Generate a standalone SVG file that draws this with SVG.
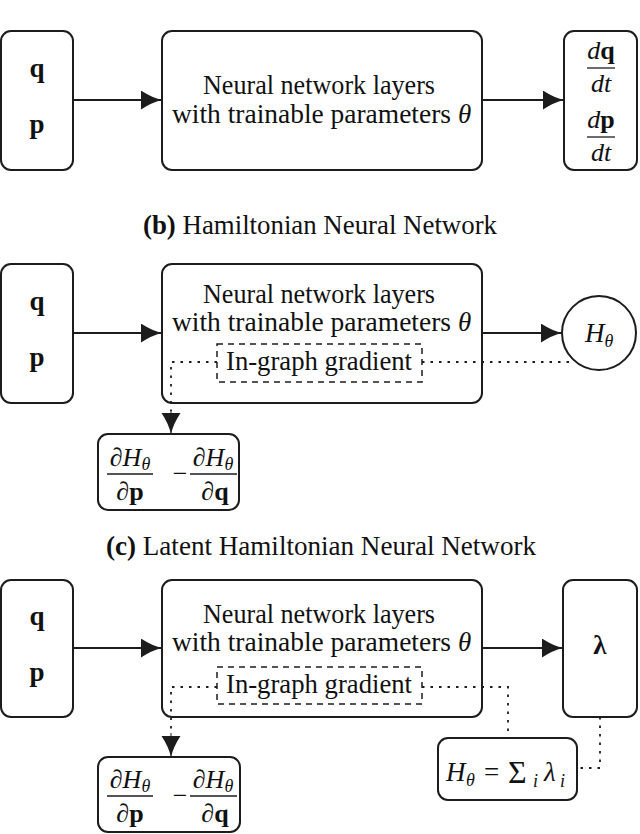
<svg xmlns="http://www.w3.org/2000/svg" width="640" height="834" viewBox="0 0 640 834">
<style>
.box{fill:#fff;stroke:#1c1c1c;stroke-width:2}
.conn{fill:none;stroke:#1c1c1c;stroke-width:2}
.dot{fill:none;stroke:#1c1c1c;stroke-width:1.8;stroke-dasharray:2.5 6}
.dash{fill:none;stroke:#1c1c1c;stroke-width:1.5;stroke-dasharray:6 5}
.frac{stroke:#1c1c1c;stroke-width:1.3}
text{font-family:"Liberation Serif","DejaVu Serif",serif;fill:#111;font-size:27px}
.b{font-weight:bold}
.i{font-style:italic}
.sub{font-size:18px;font-style:italic}
.m{text-anchor:middle}
.fr{font-size:26px}
</style>
<defs>
<marker id="ah" markerUnits="userSpaceOnUse" markerWidth="23" markerHeight="20" refX="21" refY="9.5" orient="auto" viewBox="0 0 23 20">
<path d="M21,9.5 Q10.5,7 0,0 L0,19 Q10.5,12 21,9.5 Z" fill="#1c1c1c"/>
</marker>
</defs>

<!-- Panel (a) -->
<g id="a-input">
<rect class="box" x="1" y="31" width="72" height="139" rx="10"/>
<text class="b m" x="37" y="77">q</text>
<text class="b m" x="37" y="133">p</text>
</g>
<g id="a-nn">
<rect class="box" x="162" y="31" width="320" height="139" rx="10"/>
<text x="203" y="94" textLength="232" lengthAdjust="spacingAndGlyphs">Neural network layers</text>
<text x="172" y="123" textLength="279" lengthAdjust="spacingAndGlyphs">with trainable parameters</text>
<text class="i" x="458" y="123">θ</text>
</g>
<g id="a-output">
<rect class="box" x="564" y="31" width="73" height="139" rx="10"/>
<text class="fr m" x="601" y="59"><tspan class="i">d</tspan><tspan class="b">q</tspan></text>
<line class="frac" x1="587" y1="68" x2="615" y2="68"/>
<text class="fr m i" x="601" y="92">dt</text>
<text class="fr m" x="601" y="128"><tspan class="i">d</tspan><tspan class="b">p</tspan></text>
<line class="frac" x1="587" y1="137" x2="615" y2="137"/>
<text class="fr m i" x="601" y="161">dt</text>
</g>

<!-- Panel (b) -->
<text id="b-title" x="143" y="234" textLength="354" lengthAdjust="spacingAndGlyphs"><tspan class="b">(b)</tspan> Hamiltonian Neural Network</text>
<g id="b-input">
<rect class="box" x="1" y="264" width="72" height="139" rx="10"/>
<text class="b m" x="37" y="310">q</text>
<text class="b m" x="37" y="366">p</text>
</g>
<g id="b-nn">
<rect class="box" x="162" y="264" width="320" height="139" rx="10"/>
<text x="203" y="303" textLength="232" lengthAdjust="spacingAndGlyphs">Neural network layers</text>
<text x="172" y="331" textLength="279" lengthAdjust="spacingAndGlyphs">with trainable parameters</text>
<text class="i" x="458" y="331">θ</text>
</g>
<g id="b-grad">
<rect class="dash" x="217" y="344" width="205" height="38"/>
<text x="226" y="370" textLength="186" lengthAdjust="spacingAndGlyphs">In-graph gradient</text>
</g>
<g id="b-H">
<circle class="box" cx="599" cy="333" r="37"/>
<text x="585" y="342"><tspan class="i">H</tspan><tspan class="sub" dy="5">θ</tspan></text>
</g>
<g id="b-deriv">
<rect class="box" x="98" y="434" width="141" height="76" rx="10"/>
<text class="fr m" x="130" y="466">∂<tspan class="i">H</tspan><tspan class="sub" dy="4">θ</tspan></text>
<line class="frac" x1="107" y1="474" x2="153" y2="474"/>
<text class="fr m" x="130" y="500">∂<tspan class="b">p</tspan></text>
<text class="fr m" x="180" y="482">−</text>
<text class="fr m" x="213" y="466">∂<tspan class="i">H</tspan><tspan class="sub" dy="4">θ</tspan></text>
<line class="frac" x1="190" y1="474" x2="237" y2="474"/>
<text class="fr m" x="215" y="500">∂<tspan class="b">q</tspan></text>
</g>

<!-- Panel (c) -->
<text id="c-title" x="106" y="555" textLength="430" lengthAdjust="spacingAndGlyphs"><tspan class="b">(c)</tspan> Latent Hamiltonian Neural Network</text>
<g id="c-input">
<rect class="box" x="1" y="580" width="72" height="137" rx="10"/>
<text class="b m" x="37" y="625">q</text>
<text class="b m" x="37" y="681">p</text>
</g>
<g id="c-nn">
<rect class="box" x="162" y="580" width="320" height="137" rx="10"/>
<text x="203" y="623" textLength="232" lengthAdjust="spacingAndGlyphs">Neural network layers</text>
<text x="172" y="651" textLength="279" lengthAdjust="spacingAndGlyphs">with trainable parameters</text>
<text class="i" x="458" y="651">θ</text>
</g>
<g id="c-grad">
<rect class="dash" x="217" y="667" width="205" height="37"/>
<text x="226" y="693" textLength="186" lengthAdjust="spacingAndGlyphs">In-graph gradient</text>
</g>
<g id="c-lambda">
<rect class="box" x="563" y="580" width="74" height="137" rx="10"/>
<text class="b m" x="600" y="654">λ</text>
</g>
<g id="c-sum">
<rect class="box" x="438" y="738" width="139" height="62" rx="10"/>
<text x="446" y="781"><tspan class="i">H</tspan></text>
<text class="sub" x="466" y="786">θ</text>
<text x="484" y="781">=</text>
<text x="508" y="783" style="font-size:32px">Σ</text>
<text class="sub" x="533" y="787">i</text>
<text class="i" x="544" y="781">λ</text>
<text class="sub" x="560" y="787">i</text>
</g>
<g id="c-deriv">
<rect class="box" x="98" y="757" width="142" height="75" rx="10"/>
<text class="fr m" x="130" y="788">∂<tspan class="i">H</tspan><tspan class="sub" dy="4">θ</tspan></text>
<line class="frac" x1="107" y1="796" x2="153" y2="796"/>
<text class="fr m" x="130" y="822">∂<tspan class="b">p</tspan></text>
<text class="fr m" x="180" y="804">−</text>
<text class="fr m" x="213" y="788">∂<tspan class="i">H</tspan><tspan class="sub" dy="4">θ</tspan></text>
<line class="frac" x1="190" y1="796" x2="237" y2="796"/>
<text class="fr m" x="215" y="822">∂<tspan class="b">q</tspan></text>
</g>

<g id="connectors">
<line class="conn" x1="73" y1="100" x2="162" y2="100" marker-end="url(#ah)"/>
<line class="conn" x1="482" y1="100" x2="564" y2="100" marker-end="url(#ah)"/>
<line class="conn" x1="73" y1="333" x2="162" y2="333" marker-end="url(#ah)"/>
<line class="conn" x1="482" y1="333" x2="562" y2="333" marker-end="url(#ah)"/>
<path class="dot" d="M422,362 H575"/>
<path class="dot" d="M217,362 H171 V411"/>
<line class="conn" x1="171" y1="410" x2="171" y2="434" marker-end="url(#ah)" style="stroke-width:1"/>
<line class="conn" x1="73" y1="648" x2="162" y2="648" marker-end="url(#ah)"/>
<line class="conn" x1="482" y1="648" x2="563" y2="648" marker-end="url(#ah)"/>
<path class="dot" d="M422,687 H508 V738"/>
<path class="dot" d="M600,717 V768 H578"/>
<path class="dot" d="M217,687 H171 V734"/>
<line class="conn" x1="171" y1="733" x2="171" y2="757" marker-end="url(#ah)" style="stroke-width:1"/>
</g>
</svg>
